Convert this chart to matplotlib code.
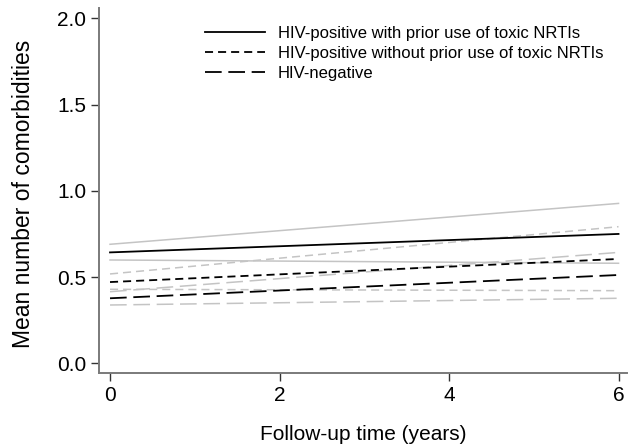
import matplotlib
matplotlib.use("Agg")
import matplotlib.pyplot as plt

plt.rcParams['font.family'] = ['Liberation Sans', 'DejaVu Sans']
plt.rcParams['lines.scale_dashes'] = False

years = [0, 6]
labels = ["HIV-positive with prior use of toxic NRTIs",
          "HIV-positive without prior use of toxic NRTIs",
          "HIV-negative"]
est_with = [0.643, 0.750]
lo_with = [0.599, 0.580]
hi_with = [0.690, 0.927]
est_without = [0.471, 0.605]
lo_without = [0.429, 0.421]
hi_without = [0.518, 0.792]
est_neg = [0.377, 0.512]
lo_neg = [0.338, 0.377]
hi_neg = [0.415, 0.643]

yticks = [0.0, 0.5, 1.0, 1.5, 2.0]
xticks = [0, 2, 4, 6]

styles = ['-', (0, (5.8, 3.6)), (0, (12, 4.8))]
series = [(est_with, lo_with, hi_with),
          (est_without, lo_without, hi_without),
          (est_neg, lo_neg, hi_neg)]

fig = plt.figure(figsize=(6.28, 4.45), dpi=100)
W, H = 628, 445
ax = fig.add_axes([99 / W, (H - 373.3) / H, (627 - 99) / W, (373.3 - 8) / H])

gray = '#c4c4c4'
for (est, lo, hi), ls in zip(series, styles):
    ax.plot(years, lo, color=gray, lw=1.1, linestyle=ls)
    ax.plot(years, hi, color=gray, lw=1.1, linestyle=ls)
handles = []
for (est, lo, hi), ls, lab in zip(series, styles, labels):
    h, = ax.plot(years, est, color='black', lw=1.3, linestyle=ls, label=lab)
    handles.append(h)

ax.set_xlim(-0.13, 6.10)
ax.set_ylim(-0.058, 2.06)
ax.set_xticks(xticks)
ax.set_yticks(yticks)
ax.set_xticklabels([str(t) for t in xticks])
ax.set_yticklabels([f"{t:.1f}" for t in yticks])
ax.tick_params(axis='both', labelsize=15, length=6, width=1, direction='out',
               color='#333333', pad=3)
for s in ['top', 'right']:
    ax.spines[s].set_visible(False)
for s in ['left', 'bottom']:
    ax.spines[s].set_color('#7a7a7a')
    ax.spines[s].set_linewidth(1.4)

ax.set_xlabel("Follow-up time (years)", fontsize=15, labelpad=14.5)
ax.set_ylabel("Mean number of comorbidities", fontsize=16.5)
ax.yaxis.set_label_coords((35 - 99) / 528, 0.49)

leg = ax.legend(handles=handles, loc='upper left', frameon=False, fontsize=12,
                handlelength=3.6, handletextpad=0.78, labelspacing=0.3,
                bbox_to_anchor=(205 / W, (H - 26) / H),
                bbox_transform=fig.transFigure, borderpad=0, borderaxespad=0)

fig.savefig("out.png", dpi=100)
